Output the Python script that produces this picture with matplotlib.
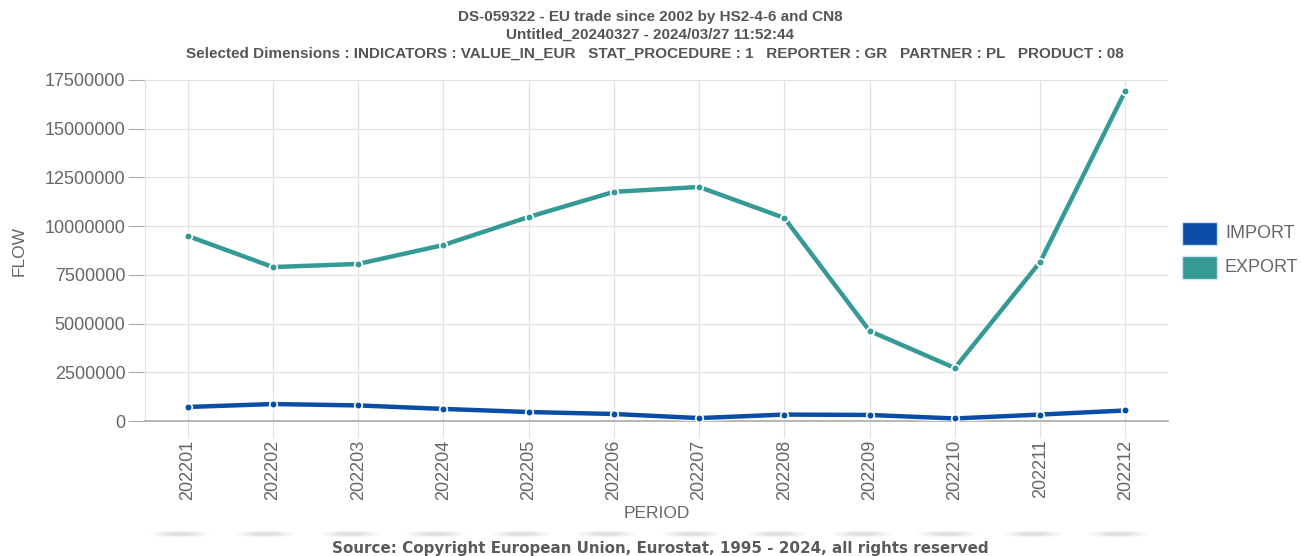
import matplotlib
matplotlib.use("Agg")
import matplotlib.pyplot as plt
from matplotlib.patches import Rectangle, Ellipse

periods = ["202201", "202202", "202203", "202204", "202205", "202206",
           "202207", "202208", "202209", "202210", "202211", "202212"]
export_vals = [9500000, 7900000, 8060000, 9030000, 10470000, 11760000,
               12010000, 10420000, 4620000, 2720000, 8160000, 16940000]
import_vals = [720000, 870000, 800000, 620000, 460000, 360000,
               150000, 330000, 310000, 130000, 330000, 540000]
y_ticks = [0, 2500000, 5000000, 7500000, 10000000, 12500000, 15000000, 17500000]

IMPORT_C = "#0a4da6"
EXPORT_C = "#359a95"
TXT = "#666666"
FONT = ["Liberation Sans", "DejaVu Sans"]
plt.rcParams["font.family"] = FONT

fig = plt.figure(figsize=(13.01, 5.56), dpi=100)
ax = fig.add_axes([145/1301, 1-421/556, (1168-145)/1301, (421-80)/556])

x = list(range(len(periods)))
for vals, c in ((import_vals, IMPORT_C), (export_vals, EXPORT_C)):
    ax.plot(x, vals, color="white", lw=4.8, solid_capstyle="round", zorder=3)
    ax.plot(x, vals, color=c, lw=3.2, zorder=4, marker="o", ms=5.5,
            mfc=c, mec="white", mew=1.2)

ax.set_xlim(-0.5, len(periods) - 0.5)
ax.set_ylim(0, 17500000)
ax.set_yticks(y_ticks)
ax.set_yticklabels([str(v) for v in y_ticks], fontsize=13, color=TXT)
ax.set_xticks(x)
ax.set_xticklabels(periods, rotation=90, fontsize=13, color=TXT)
ax.grid(True, color="#e2e2e2", lw=0.9)
ax.set_axisbelow(True)
for s in ("top", "right"):
    ax.spines[s].set_visible(False)
ax.spines["left"].set_color("#e2e2e2")
ax.spines["bottom"].set_color("#aaaaaa")
ax.spines["bottom"].set_linewidth(1.2)
ax.tick_params(axis="y", length=12, color="#aaaaaa", pad=2)
ax.tick_params(axis="x", length=12, color="#e2e2e2", pad=1.5)

ax.set_ylabel("FLOW", fontsize=12.5, color=TXT, labelpad=13)
ax.set_xlabel("PERIOD", fontsize=12.5, color=TXT, labelpad=4)

title_kw = dict(ha="center", va="center", fontsize=11, fontweight="bold",
                color="#555555")
fig.text(0.5, 1-17/556, "DS-059322 - EU trade since 2002 by HS2-4-6 and CN8", **title_kw)
fig.text(0.5, 1-35/556, "Untitled_20240327 - 2024/03/27 11:52:44", **title_kw)
fig.text(0.503, 1-54/556,
         "Selected Dimensions : INDICATORS : VALUE_IN_EUR   STAT_PROCEDURE : 1   REPORTER : GR   PARTNER : PL   PRODUCT : 08",
         **title_kw)

# legend
for i, (lab, c) in enumerate((("IMPORT", IMPORT_C), ("EXPORT", EXPORT_C))):
    y0 = 222 + i * 34
    fig.patches.append(Rectangle((1182/1301, 1-(y0+23)/556), 35/1301, 23/556,
                                 transform=fig.transFigure, facecolor=c,
                                 edgecolor="#cfe0f0", lw=1))
    fig.text(1225/1301, 1-(y0+11.5)/556, lab, ha="left", va="center",
             fontsize=13, color=TXT)

# faint shadows below the tick labels
for xi in x:
    xp = (180 + xi * (1125 - 187) / 11) / 1301
    for k, a in ((1.0, 0.03), (0.75, 0.04), (0.5, 0.05)):
        fig.patches.append(Ellipse((xp, 1-534/556), 60*k/1301, 7*k/556,
                                   transform=fig.transFigure, facecolor="#000000",
                                   edgecolor="none", alpha=a))

fig.text(660/1301, 1-549/556,
         "Source: Copyright European Union, Eurostat, 1995 - 2024, all rights reserved",
         ha="center", va="center", fontsize=10.9, fontweight="bold", color="#5a5a5a",
         family="DejaVu Sans")

fig.savefig("out.png", dpi=100, facecolor="white")
